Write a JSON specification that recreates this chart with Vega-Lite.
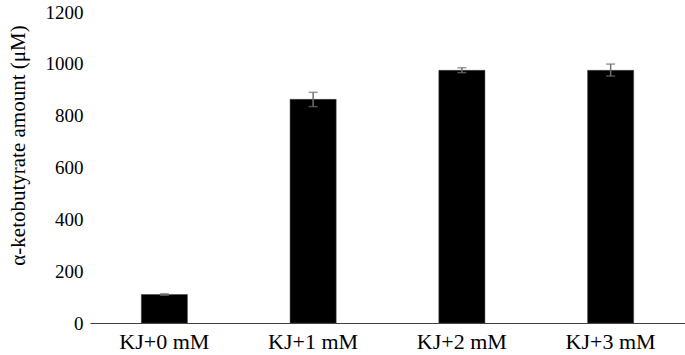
{
  "$schema": "https://vega.github.io/schema/vega-lite/v6.json",
  "width": 595,
  "height": 311,
  "autosize": {"type": "none"},
  "padding": {"left": 90, "top": 12, "right": 0, "bottom": 32},
  "background": "white",
  "config": {
    "view": {"stroke": null},
    "font": "Liberation Serif",
    "axis": {"labelFont": "Liberation Serif", "titleFont": "Liberation Serif", "labelColor": "#000", "titleColor": "#000", "grid": false, "ticks": false},
    "axisY": {"labelFontSize": 19, "labelPadding": 7, "domain": false, "format": "d", "titleFontSize": 21, "titleFontWeight": "normal", "titleX": -72, "titleY": 133, "titleAngle": 270, "titleAlign": "center", "titleBaseline": "middle"},
    "axisX": {"labelFontSize": 22, "labelPadding": 8, "labelAngle": 0, "domainColor": "#404040", "domainWidth": 1}
  },
  "data": {
    "values": [
      {"group": "KJ+0 mM", "mean": 110, "lo": 107, "hi": 113},
      {"group": "KJ+1 mM", "mean": 863, "lo": 835, "hi": 890},
      {"group": "KJ+2 mM", "mean": 975, "lo": 966, "hi": 985},
      {"group": "KJ+3 mM", "mean": 975, "lo": 953, "hi": 999}
    ]
  },
  "encoding": {
    "x": {
      "field": "group", "type": "nominal", "sort": null,
      "scale": {"paddingInner": 0.69, "paddingOuter": 0.345},
      "axis": {"title": null}
    }
  },
  "layer": [
    {
      "mark": {"type": "bar", "color": "#000", "stroke": "#444", "strokeWidth": 0.5},
      "encoding": {
        "y": {
          "field": "mean", "type": "quantitative",
          "scale": {"domain": [0, 1200]},
          "title": "α-ketobutyrate amount (μM)",
          "axis": {"values": [0, 200, 400, 600, 800, 1000, 1200]}
        }
      }
    },
    {
      "mark": {"type": "errorbar", "color": "#707070", "thickness": 1.5, "ticks": {"size": 9, "thickness": 1.5, "color": "#707070"}},
      "encoding": {
        "y": {"field": "lo", "type": "quantitative", "title": "α-ketobutyrate amount (μM)"},
        "y2": {"field": "hi"}
      }
    }
  ]
}
